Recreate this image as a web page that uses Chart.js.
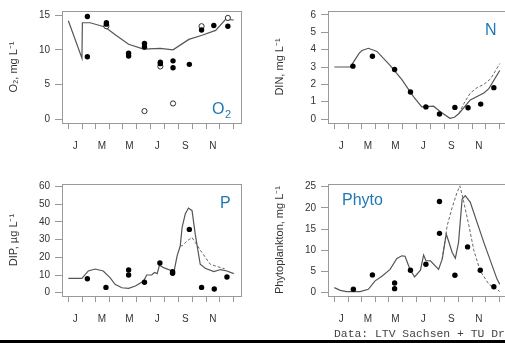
<!DOCTYPE html>
<html>
<head>
<meta charset="utf-8">
<script src="https://cdn.jsdelivr.net/npm/chart.js@4"></script>
<style>
html, body { margin: 0; padding: 0; background: #fff; }
body { position: relative; width: 505px; height: 343px; overflow: hidden; }
canvas { position: absolute; }
#src { position: absolute; left: 334px; top: 328px; font: 11.4px "Liberation Mono", monospace; line-height: 12px; color: #444; white-space: nowrap; }
#bar { position: absolute; left: 0; top: 340px; width: 505px; height: 3px; background: #000; }
</style>
</head>
<body>
<canvas id="o2" width="250" height="165" style="left:0;top:0"></canvas>
<canvas id="din" width="250" height="165" style="left:266px;top:0"></canvas>
<canvas id="dip" width="250" height="165" style="left:0;top:173px"></canvas>
<canvas id="phy" width="250" height="165" style="left:266px;top:173px"></canvas>
<div id="src">Data: LTV Sachsen + TU Dresden</div>
<div id="bar"></div>
<script>
// Achse: Tag im Jahr
const monthStarts = [0, 31, 59, 90, 120, 151, 181, 212, 243, 273, 304, 334, 365];
const monthMids = [15, 74, 135, 196, 258, 319];
const monthLabels = ['J', 'M', 'M', 'J', 'S', 'N'];

// O2
const o2ObsDay = [42, 42, 84, 84, 133, 133, 168, 168, 203, 203, 231, 231, 267, 294, 321, 352];
const o2ObsVal = [14.8, 9.0, 13.9, 13.7, 9.5, 9.1, 10.9, 10.4, 8.2, 8.0, 8.4, 7.4, 7.9, 12.85, 13.5, 13.4];
const o2OpenDay = [84, 168, 203, 231, 294, 352];
const o2OpenVal = [13.4, 1.15, 7.6, 2.25, 13.4, 14.6];
const o2ModelDay = [0, 30, 31, 48, 81, 105, 133, 166, 203, 231, 266, 295, 325, 347, 365];
const o2ModelVal = [14.2, 8.8, 13.9, 13.9, 13.3, 12.1, 10.8, 10.1, 10.2, 10.0, 11.5, 12.1, 12.8, 14.4, 14.3];

// DIN
const dinObsDay = [41, 84, 133, 168, 202, 232, 266, 295, 323, 352];
const dinObsVal = [3.05, 3.62, 2.86, 1.56, 0.7, 0.29, 0.67, 0.65, 0.86, 1.81];
const dinModelDay = [0, 35, 45, 55, 61, 75, 94, 123, 149, 175, 193, 205, 219, 234, 255, 265, 275, 300, 330, 341, 365];
const dinModelVal = [3.0, 3.0, 3.4, 3.8, 3.95, 4.08, 3.9, 3.09, 2.27, 1.28, 0.7, 0.72, 0.74, 0.42, 0.04, 0.1, 0.32, 1.1, 1.5, 1.75, 2.8];
const dinAltDay = [275, 286, 300, 315, 330, 345, 365];
const dinAltVal = [0.32, 0.9, 1.5, 1.81, 2.0, 2.32, 3.2];

// DIP
const dipObsDay = [42, 83, 133, 133, 168, 202, 230, 230, 267, 294, 322, 350];
const dipObsVal = [7.9, 3.0, 12.9, 10.0, 5.9, 16.8, 11.9, 11.0, 35.8, 3.0, 2.1, 8.9];
const dipModelDay = [0, 30, 44, 59, 77, 92, 103, 118, 133, 148, 166, 173, 184, 190, 196, 201, 210, 229, 232, 240, 247, 251, 258, 265, 273, 280, 291, 302, 321, 336, 350, 365];
const dipModelVal = [8.1, 8.1, 12.3, 13.4, 12.3, 8.5, 4.7, 2.8, 2.5, 3.8, 6.6, 10.0, 10.0, 11.4, 10.8, 15.5, 14.2, 12.3, 10.4, 20.8, 26.5, 36.9, 44.5, 47.9, 46.4, 33.1, 16.1, 13.8, 11.9, 13.1, 12.3, 10.8];
const dipAltDay = [247, 251, 262, 273, 280, 295, 313, 336, 345];
const dipAltVal = [26.5, 26.5, 29.3, 31.2, 28.4, 22.7, 16.1, 14.2, 13.5];

// Phytoplankton
const phyObsDay = [42, 84, 133, 133, 168, 202, 232, 232, 266, 294, 322, 352];
const phyObsVal = [0.8, 4.2, 2.3, 0.95, 5.3, 6.7, 21.5, 14.0, 4.1, 10.8, 5.3, 1.4];
const phyModelDay = [0, 13, 27, 57, 75, 90, 105, 123, 138, 149, 156, 167, 177, 190, 197, 202, 212, 230, 238, 247, 252, 260, 267, 274, 282, 289, 300, 330, 359, 365];
const phyModelVal = [1.2, 0.55, 0.25, 0.25, 0.8, 2.8, 3.9, 5.5, 8.1, 8.7, 8.6, 5.5, 3.7, 5.3, 8.9, 7.6, 7.5, 5.5, 7.9, 13.8, 12.2, 9.5, 8.1, 11.8, 22.1, 22.9, 21.3, 11.8, 3.2, 2.0];
const phyAltDay = [238, 249, 260, 271, 277, 285, 297, 308, 322, 341, 365];
const phyAltVal = [7.9, 15.8, 20.1, 23.7, 25.2, 21.7, 15.8, 9.9, 5.1, 2.0, 0.3];

const GREY = '#999';
const TXT = '#333';
const BLUE = '#1f78b4';

function pts(days, vals) {
    return days.map((d, i) => ({ x: d, y: vals[i] }));
}

// Rahmen um den Plotbereich
const boxPlugin = {
    id: 'box',
    afterDraw(chart) {
        const a = chart.chartArea, c = chart.ctx;
        c.save();
        c.strokeStyle = GREY;
        c.lineWidth = 1;
        c.strokeRect(Math.round(a.left) + 0.5, Math.round(a.top) + 0.5, Math.round(a.right - a.left), Math.round(a.bottom - a.top));
        c.restore();
    }
};

// Blaue Beschriftung im Panel
const labelPlugin = {
    id: 'panelLabel',
    afterDraw(chart, args, opts) {
        if (!opts.text) return;
        const c = chart.ctx;
        c.save();
        c.fillStyle = BLUE;
        c.textBaseline = 'alphabetic';
        c.font = '16px "Liberation Sans", Arial, sans-serif';
        c.fillText(opts.text, opts.x, opts.y);
        if (opts.sub) {
            const w = c.measureText(opts.text).width;
            c.font = '11px "Liberation Sans", Arial, sans-serif';
            c.fillText(opts.sub, opts.x + w + 0.5, opts.y + 4);
        }
        c.restore();
    }
};

function makePanel(id, cfg) {
    const ctx = document.getElementById(id).getContext('2d');
    const datasets = [{
        data: pts(cfg.obsDay, cfg.obsVal),
        pointRadius: 2.7,
        pointBackgroundColor: '#000',
        pointBorderColor: '#000',
        pointBorderWidth: 0,
        showLine: false,
        order: 1
    }];
    if (cfg.openDay) {
        datasets.push({
            data: pts(cfg.openDay, cfg.openVal),
            pointRadius: 2.6,
            pointBackgroundColor: '#fff',
            pointBorderColor: '#000',
            pointBorderWidth: 0.8,
            showLine: false,
            order: 2
        });
    }
    datasets.push({
        data: pts(cfg.modelDay, cfg.modelVal),
        showLine: true,
        borderColor: '#555',
        borderWidth: 1.2,
        pointRadius: 0,
        order: 3
    });
    if (cfg.altDay) {
        datasets.push({
            data: pts(cfg.altDay, cfg.altVal),
            showLine: true,
            borderColor: '#666',
            borderWidth: 1,
            borderDash: [3, 2],
            pointRadius: 0,
            order: 4
        });
    }
    return new Chart(ctx, {
        type: 'scatter',
        data: { datasets },
        options: {
            responsive: false,
            animation: false,
            layout: { padding: { top: 10, right: 9, left: 0, bottom: 0 } },
            plugins: {
                legend: { display: false },
                tooltip: { enabled: false },
                panelLabel: cfg.label
            },
            scales: {
                x: {
                    type: 'linear', position: 'bottom', min: -14, max: 381, weight: 0,
                    afterBuildTicks: s => { s.ticks = monthStarts.map(v => ({ value: v })); },
                    afterFit: s => { s.height = 7; },
                    ticks: { display: false },
                    grid: { drawOnChartArea: false, drawTicks: true, tickLength: 6, color: GREY, tickColor: GREY },
                    border: { display: true, color: GREY }
                },
                xm: {
                    type: 'linear', position: 'bottom', min: -14, max: 381, weight: 1,
                    afterBuildTicks: s => { s.ticks = monthMids.map(v => ({ value: v })); },
                    afterFit: s => { s.height = 35; },
                    ticks: {
                        autoSkip: false, maxRotation: 0, padding: 10, color: TXT,
                        font: { size: 10, family: '"Liberation Sans", Arial, sans-serif' },
                        callback: (v, i) => monthLabels[i]
                    },
                    grid: { display: false, drawTicks: false },
                    border: { display: false }
                },
                y: {
                    min: cfg.yMin, max: cfg.yMax,
                    afterBuildTicks: s => { s.ticks = cfg.yTicks.map(v => ({ value: v })); },
                    afterFit: s => { s.width = 62; },
                    ticks: { padding: 5, color: TXT, font: { size: 10, family: '"Liberation Sans", Arial, sans-serif' } },
                    grid: { drawOnChartArea: false, tickLength: 7, color: GREY, tickColor: GREY },
                    border: { display: true, color: GREY },
                    title: {
                        display: true, text: cfg.yTitle, color: TXT,
                        font: { size: 11, family: '"Liberation Sans", Arial, sans-serif' },
                        padding: { top: 7, bottom: 0 }
                    }
                }
            }
        },
        plugins: [boxPlugin, labelPlugin]
    });
}

makePanel('o2', {
    obsDay: o2ObsDay, obsVal: o2ObsVal, openDay: o2OpenDay, openVal: o2OpenVal,
    modelDay: o2ModelDay, modelVal: o2ModelVal,
    yMin: -0.57, yMax: 15.6, yTicks: [0, 5, 10, 15], yTitle: 'O\u2082, mg L\u207B\u00B9',
    label: { text: 'O', sub: '2', x: 212, y: 114 }
});
makePanel('din', {
    obsDay: dinObsDay, obsVal: dinObsVal,
    modelDay: dinModelDay, modelVal: dinModelVal, altDay: dinAltDay, altVal: dinAltVal,
    yMin: -0.23, yMax: 6.23, yTicks: [0, 1, 2, 3, 4, 5, 6], yTitle: 'DIN, mg L\u207B\u00B9',
    label: { text: 'N', x: 219, y: 34.5 }
});
makePanel('dip', {
    obsDay: dipObsDay, obsVal: dipObsVal,
    modelDay: dipModelDay, modelVal: dipModelVal, altDay: dipAltDay, altVal: dipAltVal,
    yMin: -1.87, yMax: 61.5, yTicks: [0, 10, 20, 30, 40, 50, 60], yTitle: 'DIP, \u00B5g L\u207B\u00B9',
    label: { text: 'P', x: 220, y: 34.5 }
});
makePanel('phy', {
    obsDay: phyObsDay, obsVal: phyObsVal,
    modelDay: phyModelDay, modelVal: phyModelVal, altDay: phyAltDay, altVal: phyAltVal,
    yMin: -0.78, yMax: 25.64, yTicks: [0, 5, 10, 15, 20, 25], yTitle: 'Phytoplankton, mg L\u207B\u00B9',
    label: { text: 'Phyto', x: 76, y: 32 }
});
</script>
</body>
</html>
